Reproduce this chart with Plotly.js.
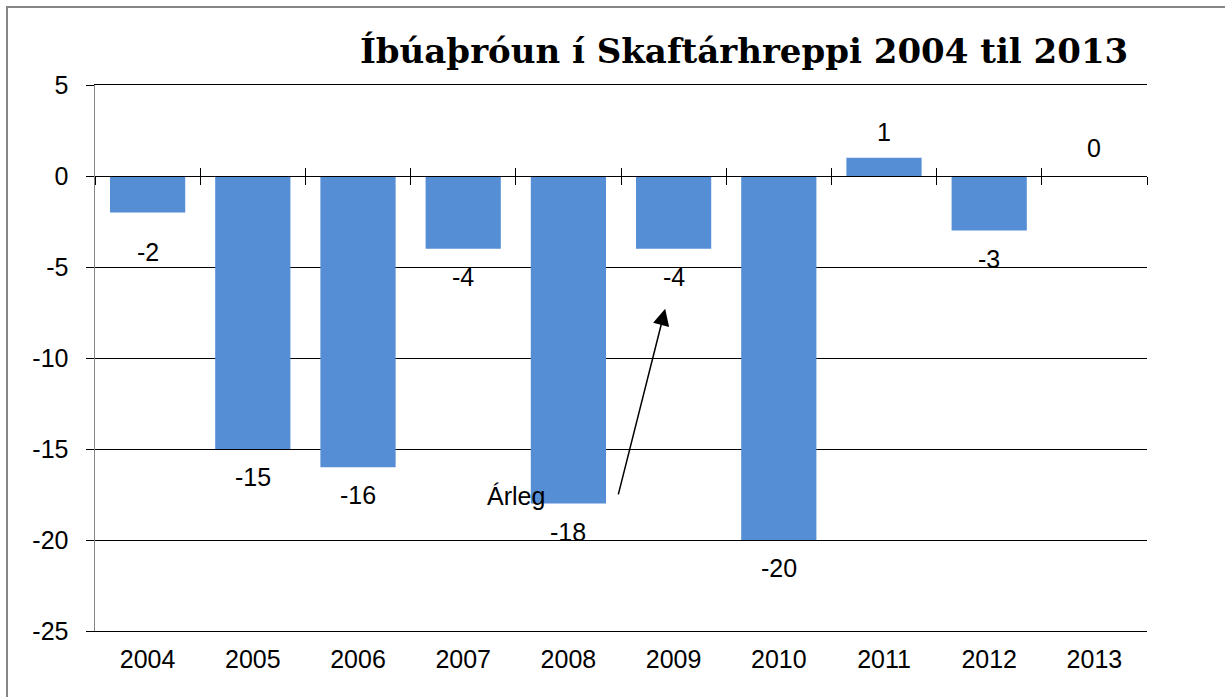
<!DOCTYPE html>
<html>
<head>
<meta charset="utf-8">
<script src="https://cdn.plot.ly/plotly-3.0.1.min.js"></script>
<style>html,body{margin:0;padding:0;background:#fff;}</style>
</head>
<body>
<div id="chart" style="width:1225px;height:697px;"></div>
<script>
const years = ['2004','2005','2006','2007','2008','2009','2010','2011','2012','2013'];
const values = [-2, -15, -16, -4, -18, -4, -20, 1, -3, 0];
const yTickVals = [-25, -20, -15, -10, -5, 0, 5];
const yTickText = ['-25', '-20', '-15', '-10', '-5', '0', '5'];
const titleText = 'Íbúaþróun í Skaftárhreppi 2004 til 2013';
const noteText = 'Árleg';

const FONT = 'Liberation Sans, Arial, sans-serif';
const FS = 25;

const bars = {
  type: 'bar', x: years, y: values,
  marker: {color: '#558ED5', line: {width: 0}},
  hoverinfo: 'x+y'
};
// invisible traces so the crossing axis at zero gets its categories
const ghost2 = {type: 'scatter', x: years, y: values, xaxis: 'x2', yaxis: 'y', mode: 'markers', marker: {opacity: 0}, hoverinfo: 'skip', showlegend: false};
const ghost3 = {type: 'scatter', x: years, y: values, xaxis: 'x3', yaxis: 'y', mode: 'markers', marker: {opacity: 0}, hoverinfo: 'skip', showlegend: false};

const yMin = -25, yMax = 5;
const zeroPos = (0 - yMin) / (yMax - yMin);
const xRange = [-0.5, years.length - 0.5];

const labels = values.map((v, i) => ({
  x: i, y: v, xref: 'x', yref: 'y', text: String(v), showarrow: false,
  font: {family: FONT, size: FS, color: '#000'},
  yanchor: 'middle', yshift: v > 0 ? 26 : (v === 0 ? 28 : (i === 0 ? -40 : -28))
}));

const zeroAxis = (ticks) => ({
  type: 'category', categoryorder: 'array', categoryarray: years, range: xRange,
  overlaying: 'x', anchor: 'free', position: zeroPos, side: 'bottom',
  showline: ticks === 'outside', linecolor: '#000', linewidth: 1,
  ticks: ticks, ticklen: 8, tickcolor: '#000', tickwidth: 1,
  tickson: 'boundaries', showticklabels: false, showgrid: false, zeroline: false, fixedrange: true
});

const layout = {
  width: 1225, height: 697,
  margin: {l: 95, r: 78, t: 85, b: 66},
  paper_bgcolor: '#fff', plot_bgcolor: '#fff',
  showlegend: false,
  bargap: 0.285,
  title: {text: '<b>' + titleText + '</b>', font: {family: 'DejaVu Serif, serif', size: 34, color: '#000'},
          xref: 'container', x: 0.921, xanchor: 'right', yref: 'container', y: 0.926, yanchor: 'middle'},
  xaxis: {type: 'category', categoryorder: 'array', categoryarray: years, range: xRange,
          showgrid: false, zeroline: false, showline: true, mirror: true, linecolor: '#000', linewidth: 1, ticks: '',
          tickfont: {family: FONT, size: FS, color: '#000'}, ticklabelstandoff: 6, fixedrange: true},
  xaxis2: zeroAxis('outside'),
  xaxis3: zeroAxis('inside'),
  yaxis: {range: [yMin, yMax], tickmode: 'array', tickvals: yTickVals, ticktext: yTickText,
          showgrid: true, gridcolor: '#000', gridwidth: 1,
          zeroline: false, showline: true, linecolor: '#868686', linewidth: 1.5,
          ticks: 'outside', ticklen: 8, tickcolor: '#000', ticklabelstandoff: 12,
          tickfont: {family: FONT, size: FS, color: '#000'}, fixedrange: true},
  annotations: labels.concat([
    {x: 4.92, y: -7.3, xref: 'x', yref: 'y', ax: 4.47, ay: -17.6, axref: 'x', ayref: 'y',
     text: ' ', showarrow: true, arrowhead: 2, arrowsize: 2.2, arrowwidth: 1.5, arrowcolor: '#000', font: {size: 1}},
    {x: 3.5, y: -17.6, xref: 'x', yref: 'y', text: noteText, showarrow: false,
     font: {family: FONT, size: FS, color: '#000'}}
  ]),
  shapes: [
    {type: 'rect', xref: 'paper', yref: 'paper',
     x0: (7 - 95) / 1052, x1: (1240 - 95) / 1052, y0: -(710 - 631) / 546, y1: 1 + (85 - 7) / 546,
     line: {color: '#868686', width: 2}, fillcolor: 'rgba(0,0,0,0)'}
  ]
};

Plotly.newPlot('chart', [bars, ghost2, ghost3], layout, {displayModeBar: false, staticPlot: true});
</script>
</body>
</html>
